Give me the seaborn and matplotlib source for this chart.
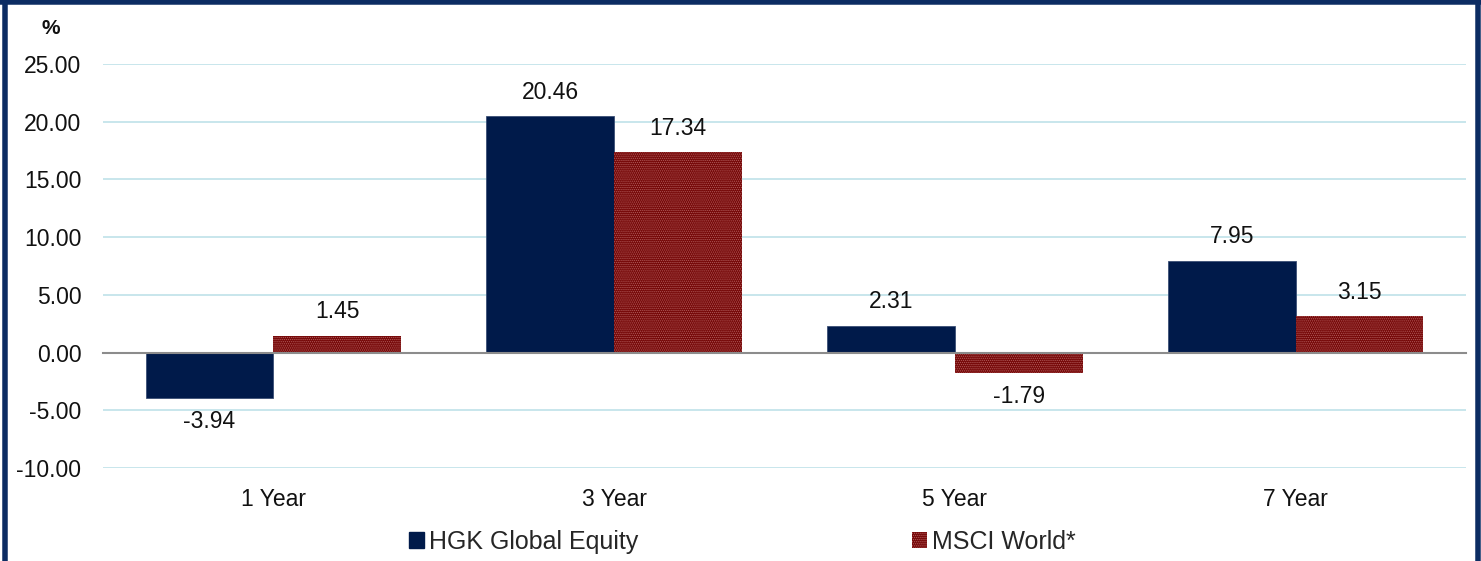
import numpy as np
import pandas as pd
import matplotlib.pyplot as plt
import seaborn as sns
from matplotlib.patches import Patch
from matplotlib.lines import Line2D

sns.set_theme(style="white")
plt.rcParams['font.family'] = ['Liberation Sans', 'DejaVu Sans']
plt.rcParams['hatch.linewidth'] = 0.6

# Data
periods = ["1 Year", "3 Year", "5 Year", "7 Year"]
hgk = [-3.94, 20.46, 2.31, 7.95]
msci = [1.45, 17.34, -1.79, 3.15]
series_names = ["HGK Global Equity", "MSCI World*"]
yticks = [-10, -5, 0, 5, 10, 15, 20, 25]

navy = "#001a4a"
red = "#760808"
dots = "#b05a5a"
frame_col = "#0c2c63"

df = pd.DataFrame({
    "period": periods * 2,
    "value": hgk + msci,
    "series": [series_names[0]] * 4 + [series_names[1]] * 4,
})

fig = plt.figure(figsize=(14.81, 5.61), dpi=100)
ax = fig.add_axes([103 / 1481, 1 - 468 / 561, (1466 - 103) / 1481, (468 - 64) / 561])

sns.barplot(data=df, x="period", y="value", hue="series", order=periods,
            hue_order=series_names, palette=[navy, red], width=0.75,
            saturation=1, legend=False, ax=ax, errorbar=None)

# second series gets the dotted texture
for bar in ax.patches[len(periods):]:
    bar.set_hatch("........")
    bar.set_edgecolor(dots)
    bar.set_linewidth(0)
for bar in ax.patches[:len(periods)]:
    bar.set_edgecolor("#3a4f75")
    bar.set_linewidth(0.6)

# value labels
for bar, v in zip(ax.patches, hgk + msci):
    x = bar.get_x() + bar.get_width() / 2
    off = 24 if v >= 0 else -23
    ax.annotate(f"{v:.2f}", (x, v), xytext=(0, off * 0.72), textcoords="offset points",
                ha="center", va="center", fontsize=16.5, color="#111111")

ax.set_ylim(-10, 25)
ax.set_xlim(-0.5, 3.5)
ax.set_yticks(yticks)
ax.set_yticklabels([f"{t:.2f}" for t in yticks])
ax.yaxis.grid(True, color="#bfe2e9", linewidth=1.2)
ax.set_axisbelow(True)
ax.set_xlabel("")
ax.set_ylabel("")

for s in ["top", "right", "left"]:
    ax.spines[s].set_visible(False)
ax.spines["bottom"].set_position(("data", 0))
ax.spines["bottom"].set_color("#8c8c8c")
ax.spines["bottom"].set_linewidth(1.5)
ax.spines["bottom"].set_zorder(5)

ax.set_xticks(np.arange(-0.5, 4.0, 1.0), minor=True)
ax.tick_params(axis="x", which="minor", length=5, width=1.2, color="#8c8c8c", direction="out")
ax.tick_params(axis="x", which="major", length=0, pad=97.5, labelsize=16.5, labelcolor="#111111")
ax.tick_params(axis="y", length=0, pad=15.5, labelsize=16.5, labelcolor="#111111")

fig.text(51 / 1481, 1 - 28 / 561, "%", ha="center", va="center",
         fontsize=15, fontweight="bold", color="#111111")

handles = [Patch(facecolor=navy, edgecolor=navy),
           Patch(facecolor=red, edgecolor=dots, hatch="........", linewidth=0)]
fig.legend(handles, series_names, loc="center left", ncol=2,
           bbox_to_anchor=(409 / 1481, 1 - 542 / 561), frameon=False,
           fontsize=18, handlelength=0.6, handleheight=0.6, handletextpad=0.2,
           columnspacing=10.95, borderpad=0, borderaxespad=0)

# outer frame (left, top, right)
lw = 5.5 * 72 / 100
for xs, ys in [([5 / 1481, 5 / 1481], [0, 1]),
               ([0, 1], [1 - 2 / 561, 1 - 2 / 561]),
               ([1478 / 1481, 1478 / 1481], [0, 1])]:
    fig.add_artist(Line2D(xs, ys, color=frame_col, linewidth=lw, transform=fig.transFigure))

fig.savefig("out.png", dpi=100)
